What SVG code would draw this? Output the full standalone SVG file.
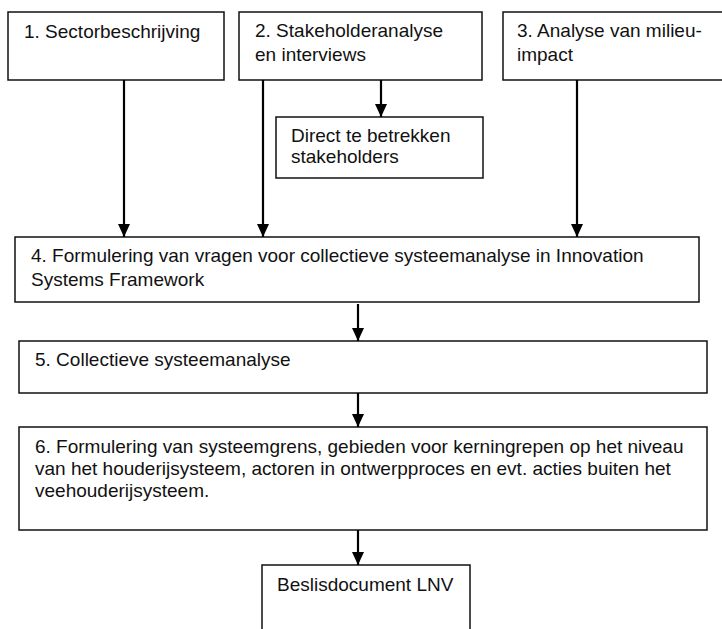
<svg xmlns="http://www.w3.org/2000/svg" width="722" height="629" viewBox="0 0 722 629">
<defs>
<style>
.box{fill:#fff;stroke:#111;stroke-width:1.5}
.t{font-family:"Liberation Sans",Arial,sans-serif;font-size:19px;fill:#111}
.c{stroke:#000;stroke-width:2.2;fill:none}
</style>
<marker id="ah" markerWidth="13" markerHeight="12" refX="13" refY="6" orient="auto" markerUnits="userSpaceOnUse" viewBox="0 0 13 12">
<path d="M0,0 L13,6 L0,12 Z" fill="#000"/>
</marker>
</defs>
<rect width="722" height="629" fill="#fff"/>
<g id="n1"><rect class="box" x="8" y="12" width="216" height="68"/><text class="t" x="24" y="38">1. Sectorbeschrijving</text></g>
<g id="n2"><rect class="box" x="239" y="12" width="243" height="68"/><text class="t" x="255" y="37">2. Stakeholderanalyse</text><text class="t" x="255" y="61">en interviews</text></g>
<g id="n3"><rect class="box" x="503" y="12" width="222" height="68"/><text class="t" x="517" y="37">3. Analyse van milieu-</text><text class="t" x="517" y="61">impact</text></g>
<g id="nd"><rect class="box" x="276" y="117" width="207" height="61"/><text class="t" x="291" y="142">Direct te betrekken</text><text class="t" x="291" y="163">stakeholders</text></g>
<g id="n4"><rect class="box" x="15" y="237" width="684" height="65"/><text class="t" x="31" y="262">4. Formulering van vragen voor collectieve systeemanalyse in Innovation</text><text class="t" x="31" y="286">Systems Framework</text></g>
<g id="n5"><rect class="box" x="19" y="341" width="688" height="52"/><text class="t" x="35" y="366">5. Collectieve systeemanalyse</text></g>
<g id="n6"><rect class="box" x="19" y="427" width="688" height="103"/><text class="t" x="35" y="453">6. Formulering van systeemgrens, gebieden voor kerningrepen op het niveau</text><text class="t" x="35" y="475">van het houderijsysteem, actoren in ontwerpproces en evt. acties buiten het</text><text class="t" x="35" y="497">veehouderijsysteem.</text></g>
<g id="n7"><rect class="box" x="262" y="565" width="208" height="80"/><text class="t" x="277" y="591">Beslisdocument LNV</text></g>
<g id="connectors">
<line class="c" x1="124" y1="80" x2="124" y2="237" marker-end="url(#ah)"/>
<line class="c" x1="263" y1="80" x2="263" y2="237" marker-end="url(#ah)"/>
<line class="c" x1="381" y1="80" x2="381" y2="117" marker-end="url(#ah)" stroke-width="3"/>
<line class="c" x1="577" y1="80" x2="577" y2="237" marker-end="url(#ah)"/>
<line class="c" x1="358" y1="304" x2="358" y2="341" marker-end="url(#ah)"/>
<line class="c" x1="358" y1="393" x2="358" y2="427" marker-end="url(#ah)"/>
<line class="c" x1="358" y1="530" x2="358" y2="565" marker-end="url(#ah)"/>
</g>
</svg>
